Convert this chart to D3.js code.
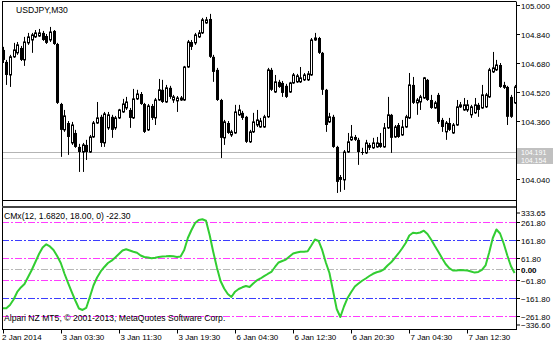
<!DOCTYPE html>
<meta charset="utf-8">
<script src="https://d3js.org/d3.v7.min.js"></script>
<style>
body { margin: 0; background: #fff; }
text { font-family: "Liberation Sans", Arial, sans-serif; fill: #000; }
</style>
<body>
<script>

// USDJPY M30 bars
var open = [104.752,104.686,104.614,104.714,104.736,104.763,104.697,104.791,104.807,104.824,
  104.829,104.846,104.829,104.807,104.857,104.785,104.454,104.311,104.349,104.239,
  104.294,104.217,104.189,104.228,104.189,104.272,104.349,104.383,104.239,104.322,
  104.383,104.322,104.377,104.410,104.432,104.421,104.377,104.482,104.509,104.454,
  104.311,104.443,104.377,104.476,104.532,104.465,104.543,104.476,104.471,104.476,
  104.476,104.658,104.796,104.791,104.824,104.846,104.901,104.923,104.714,104.642,
  104.476,104.267,104.349,104.283,104.294,104.394,104.405,104.383,104.245,104.300,
  104.338,104.327,104.327,104.383,104.642,104.520,104.576,104.570,104.554,104.520,
  104.570,104.576,104.576,104.587,104.587,104.614,104.807,104.818,104.736,104.532,
  104.355,104.383,104.217,104.051,104.035,104.189,104.256,104.272,104.256,104.189,
  104.184,104.228,104.212,104.217,104.239,104.217,104.322,104.394,104.272,104.338,
  104.283,104.327,104.377,104.559,104.460,104.465,104.487,104.587,104.476,104.432,
  104.504,104.366,104.300,104.349,104.294,104.338,104.438,104.421,104.421,104.394,
  104.405,104.449,104.432,104.438,104.493,104.631,104.642,104.669,104.559,104.548,
  104.493,104.460];
var high = [104.769,104.697,104.725,104.791,104.796,104.774,104.824,104.846,104.846,104.862,
  104.868,104.857,104.840,104.879,104.862,104.791,104.460,104.421,104.360,104.355,
  104.311,104.234,104.239,104.256,104.283,104.360,104.465,104.394,104.410,104.410,
  104.394,104.388,104.427,104.482,104.493,104.432,104.537,104.532,104.520,104.460,
  104.454,104.454,104.487,104.592,104.587,104.559,104.554,104.504,104.498,104.498,
  104.664,104.807,104.807,104.846,104.862,104.929,104.934,104.951,104.725,104.653,
  104.482,104.366,104.360,104.311,104.449,104.449,104.416,104.388,104.311,104.405,
  104.421,104.377,104.394,104.653,104.653,104.614,104.587,104.581,104.565,104.576,
  104.625,104.620,104.658,104.625,104.636,104.818,104.846,104.824,104.741,104.537,
  104.405,104.394,104.223,104.062,104.200,104.294,104.338,104.283,104.267,104.212,
  104.256,104.239,104.267,104.272,104.294,104.349,104.493,104.399,104.338,104.349,
  104.366,104.394,104.625,104.603,104.487,104.504,104.603,104.592,104.504,104.471,
  104.515,104.377,104.360,104.377,104.349,104.476,104.465,104.487,104.476,104.449,
  104.487,104.460,104.559,104.515,104.653,104.741,104.697,104.680,104.576,104.554,
  104.504,104.559];
var low = [104.680,104.559,104.548,104.708,104.725,104.691,104.664,104.780,104.736,104.818,
  104.824,104.802,104.785,104.796,104.780,104.454,104.162,104.300,104.173,104.228,
  104.212,104.079,104.079,104.145,104.184,104.267,104.344,104.217,104.217,104.311,
  104.267,104.311,104.371,104.405,104.421,104.322,104.371,104.476,104.449,104.294,
  104.305,104.366,104.338,104.471,104.460,104.460,104.482,104.460,104.410,104.471,
  104.471,104.653,104.752,104.780,104.818,104.840,104.896,104.708,104.576,104.471,
  104.156,104.228,104.289,104.272,104.289,104.388,104.366,104.239,104.239,104.294,
  104.327,104.322,104.322,104.377,104.526,104.515,104.543,104.493,104.487,104.515,
  104.565,104.570,104.570,104.581,104.581,104.609,104.802,104.730,104.504,104.300,
  104.349,104.212,103.963,103.969,103.980,104.184,104.250,104.250,104.118,104.173,
  104.178,104.200,104.206,104.212,104.212,104.212,104.316,104.184,104.267,104.267,
  104.278,104.322,104.371,104.454,104.394,104.421,104.482,104.471,104.427,104.427,
  104.344,104.300,104.256,104.305,104.289,104.333,104.432,104.416,104.410,104.377,
  104.399,104.383,104.427,104.432,104.487,104.625,104.636,104.543,104.537,104.338,
  104.377,104.454];
var close = [104.697,104.614,104.714,104.752,104.780,104.697,104.796,104.824,104.835,104.846,
  104.846,104.807,104.791,104.851,104.785,104.460,104.311,104.388,104.272,104.338,
  104.217,104.189,104.228,104.189,104.272,104.349,104.377,104.239,104.399,104.394,
  104.311,104.377,104.421,104.454,104.465,104.377,104.482,104.509,104.454,104.300,
  104.443,104.377,104.476,104.532,104.465,104.543,104.493,104.493,104.487,104.487,
  104.658,104.796,104.769,104.835,104.846,104.918,104.918,104.714,104.631,104.476,
  104.267,104.355,104.294,104.300,104.410,104.421,104.377,104.245,104.300,104.355,
  104.366,104.360,104.383,104.642,104.532,104.576,104.548,104.515,104.493,104.570,
  104.614,104.609,104.598,104.614,104.620,104.807,104.818,104.736,104.532,104.338,
  104.383,104.217,104.024,104.035,104.189,104.245,104.272,104.256,104.189,104.184,
  104.239,104.212,104.239,104.239,104.217,104.322,104.394,104.267,104.327,104.272,
  104.327,104.383,104.559,104.460,104.476,104.493,104.598,104.476,104.432,104.460,
  104.355,104.327,104.349,104.311,104.338,104.438,104.449,104.449,104.449,104.438,
  104.449,104.421,104.504,104.504,104.642,104.653,104.669,104.548,104.543,104.383,
  104.383,104.548];

// CMx indicator, one value per bar
var cmx = [-219.3,-219.3,-200.9,-170.2,-128.3,-103.2,-83.7,-44.6,-5.6,39.1,
  83.7,120.0,137.8,125.6,106.0,72.5,33.5,-25.1,-78.1,-128.3,
  -175.8,-220.4,-228.8,-217.6,-156.2,-92.1,-47.4,-14.0,11.2,33.5,
  46.3,64.2,83.7,103.2,109.9,103.2,96.5,90.4,75.3,67.0,
  64.2,59.7,62.5,67.0,69.8,70.9,72.5,70.9,67.0,69.8,
  106.0,173.0,217.6,256.7,273.4,277.3,269.5,189.7,94.9,8.4,
  -67.0,-108.8,-139.5,-156.2,-126.7,-111.6,-102.1,-94.9,-100.4,-80.9,
  -64.2,-53.0,-40.2,-27.9,-16.7,11.2,36.3,44.6,52.5,69.8,
  86.5,92.1,96.5,96.5,99.3,131.1,164.6,156.2,106.0,36.3,
  -22.3,-122.8,-223.2,-267.8,-209.3,-161.8,-128.3,-97.7,-80.9,-65.8,
  -53.0,-39.1,-26.8,-18.4,-12.8,-1.7,19.5,37.4,61.4,86.5,
  114.4,145.1,186.9,202.0,199.8,203.7,213.7,195.3,164.6,129.5,
  96.5,61.4,27.9,4.5,-8.4,-8.4,-6.1,-7.3,-8.9,-14.0,
  -20.1,-16.7,-5.6,19.5,92.1,173.0,220.4,198.1,142.3,75.3,
  15.0,-22.3];

var timeTicks = [0, 16, 32, 48, 64, 80, 96, 112, 128];
var timeLabels = ["2 Jan 2014", "3 Jan 03:30", "3 Jan 11:30", "3 Jan 19:30", "6 Jan 04:30",
  "6 Jan 12:30", "6 Jan 20:30", "7 Jan 04:30", "7 Jan 12:30"];
var priceTicks = [105.000, 104.840, 104.680, 104.520, 104.360, 104.200, 104.040];
var priceLines = [104.191, 104.154];
var cmxLevels = [261.8, 161.8, 61.8, 0, -61.8, -161.8, -261.8];
var cmxRange = [-336.6, 333.65];
var symbolTitle = "USDJPY,M30";
var cmxTitle = "CMx(12, 1.6820, 18.00, 0) -22.30";
var copyright = "Alpari NZ MT5, \u00a9 2001-2013, MetaQuotes Software Corp.";

// layout
var width = 560, height = 344;
var left = 2, right = 516;
var mainTop = 1.5, mainBottom = 200, subTop = 207, subBottom = 329.5;

var svg = d3.select("body").append("svg")
    .attr("width", width)
    .attr("height", height);

var x = d3.scaleLinear().domain([0, close.length - 1]).range([2.7, 514.6]);
var y = d3.scaleLinear().domain([104.04, 105]).range([179, 5]);
var ys = d3.scaleLinear().domain(cmxRange).range([329.3, 209.2]);

var defs = svg.append("defs");
defs.append("clipPath").attr("id", "clipMain").append("rect")
    .attr("x", left).attr("y", mainTop).attr("width", right - left).attr("height", mainBottom - mainTop);
defs.append("clipPath").attr("id", "clipSub").append("rect")
    .attr("x", left).attr("y", subTop).attr("width", right - left).attr("height", subBottom - subTop);

// price lines
var main = svg.append("g").attr("clip-path", "url(#clipMain)");
main.selectAll(".pline").data(priceLines).enter().append("line")
    .attr("x1", left).attr("x2", right)
    .attr("y1", function(d) { return Math.round(y(d)) + 0.5; })
    .attr("y2", function(d) { return Math.round(y(d)) + 0.5; })
    .style("stroke", function(d, i) { return i == 0 ? "#b4b4b4" : "#d6d6d6"; });

// candles
var bars = main.selectAll(".bar").data(d3.range(close.length)).enter().append("g");
bars.append("line")
    .attr("x1", function(i) { return Math.round(x(i)) + 0.5; })
    .attr("x2", function(i) { return Math.round(x(i)) + 0.5; })
    .attr("y1", function(i) { return y(high[i]); })
    .attr("y2", function(i) { return y(low[i]); })
    .style("stroke", "#000");
bars.append("rect")
    .attr("x", function(i) { return close[i] >= open[i] ? Math.round(x(i)) - 0.5 : Math.round(x(i)) - 1; })
    .attr("width", function(i) { return close[i] >= open[i] ? 2 : 3; })
    .attr("y", function(i) { return y(Math.max(open[i], close[i])); })
    .attr("height", function(i) { return Math.max(1, Math.abs(y(open[i]) - y(close[i]))); })
    .style("fill", function(i) { return close[i] >= open[i] ? "#fff" : "#000"; })
    .style("stroke", function(i) { return close[i] >= open[i] ? "#000" : "none"; })
    .style("stroke-width", 1);

// indicator levels and line
var levelColor = function(d) {
  if (d == 0) return "#b8b8b8";
  if (Math.abs(d) == 161.8) return "#3c3cff";
  return "#ff3cff";
};
var sub = svg.append("g").attr("clip-path", "url(#clipSub)");
sub.selectAll(".level").data(cmxLevels).enter().append("line")
    .attr("x1", left).attr("x2", right)
    .attr("y1", function(d) { return Math.round(ys(d)) + 0.5; })
    .attr("y2", function(d) { return Math.round(ys(d)) + 0.5; })
    .style("stroke", levelColor)
    .style("stroke-dasharray", "7,2,2,2");

sub.append("path").datum(cmx)
    .attr("d", d3.line().x(function(d, i) { return x(i); }).y(function(d) { return ys(d); }).curve(d3.curveLinear))
    .style("fill", "none")
    .style("stroke", "#32cd32")
    .style("stroke-width", 2)
    .style("stroke-linejoin", "round");

// frames
var frame = svg.append("g").style("stroke", "#000").style("fill", "none");
frame.append("line").attr("x1", left + 0.5).attr("x2", left + 0.5).attr("y1", mainTop).attr("y2", subBottom);
frame.append("line").attr("x1", right + 0.5).attr("x2", right + 0.5).attr("y1", mainTop).attr("y2", subBottom + 0.5);
frame.append("line").attr("x1", left).attr("x2", right).attr("y1", mainTop).attr("y2", mainTop);
frame.append("line").attr("x1", left).attr("x2", right).attr("y1", mainBottom + 0.5).attr("y2", mainBottom + 0.5);
frame.append("line").attr("x1", left).attr("x2", right).attr("y1", subTop).attr("y2", subTop).style("stroke-width", 2).style("stroke", "#444");
frame.append("line").attr("x1", left).attr("x2", right + 1).attr("y1", subBottom).attr("y2", subBottom);

// price axis
var axisG = svg.append("g").style("font-size", "8px");
priceTicks.forEach(function(p) {
  var yy = Math.round(y(p)) + 0.5;
  axisG.append("line").attr("x1", right).attr("x2", right + 4).attr("y1", yy).attr("y2", yy).style("stroke", "#000");
  var hidden = priceLines.some(function(q) { return Math.abs(y(q) - y(p)) < 9; });
  if (!hidden) {
    axisG.append("text").attr("x", right + 5).attr("y", yy + 3).text(d3.format(".3f")(p));
  }
});

// gray price line labels, stacked one above the other
var tagTop = Math.round(y(priceLines[0])) - 4;
priceLines.forEach(function(p, i) {
  var yy = Math.round(y(p)) + 0.5;
  axisG.append("line").attr("x1", right).attr("x2", right + 4).attr("y1", yy).attr("y2", yy).style("stroke", "#000");
});
axisG.append("rect").attr("x", right + 1).attr("y", tagTop).attr("width", 36).attr("height", 8 * priceLines.length)
    .style("fill", "#c0c0c0");
priceLines.forEach(function(p, i) {
  axisG.append("text").attr("x", right + 5).attr("y", tagTop + 6.5 + i * 8)
      .style("font-size", "7px").style("fill", "#fff").text(d3.format(".3f")(p));
});

// indicator axis
var subTicks = [cmxRange[1]].concat(cmxLevels).concat([cmxRange[0]]);
subTicks.forEach(function(v) {
  var yy = Math.round(ys(v)) + 0.5;
  var ty = Math.max(213, Math.min(325, yy));
  axisG.append("line").attr("x1", right).attr("x2", right + 4).attr("y1", ty).attr("y2", ty).style("stroke", "#000");
  axisG.append("text").attr("x", right + 5).attr("y", ty + 3)
      .style("font-weight", v == 0 ? "bold" : "normal")
      .text(d3.format(".2f")(v));
});

// time axis
timeTicks.forEach(function(t, i) {
  var xx = Math.round(x(t)) + 0.5;
  axisG.append("line").attr("x1", xx).attr("x2", xx).attr("y1", subBottom).attr("y2", subBottom + 4).style("stroke", "#000");
  axisG.append("text").attr("x", i == 0 ? 2 : xx + 1).attr("y", 339.5).text(timeLabels[i]);
});

// titles
svg.append("text").attr("x", 16).attr("y", 13).style("font-size", "8.6px").text(symbolTitle);
svg.append("text").attr("x", 4).attr("y", 219).style("font-size", "8.6px").text(cmxTitle);
svg.append("text").attr("x", 4).attr("y", 321).style("font-size", "8.6px").text(copyright);

</script>
</body>
</html>
